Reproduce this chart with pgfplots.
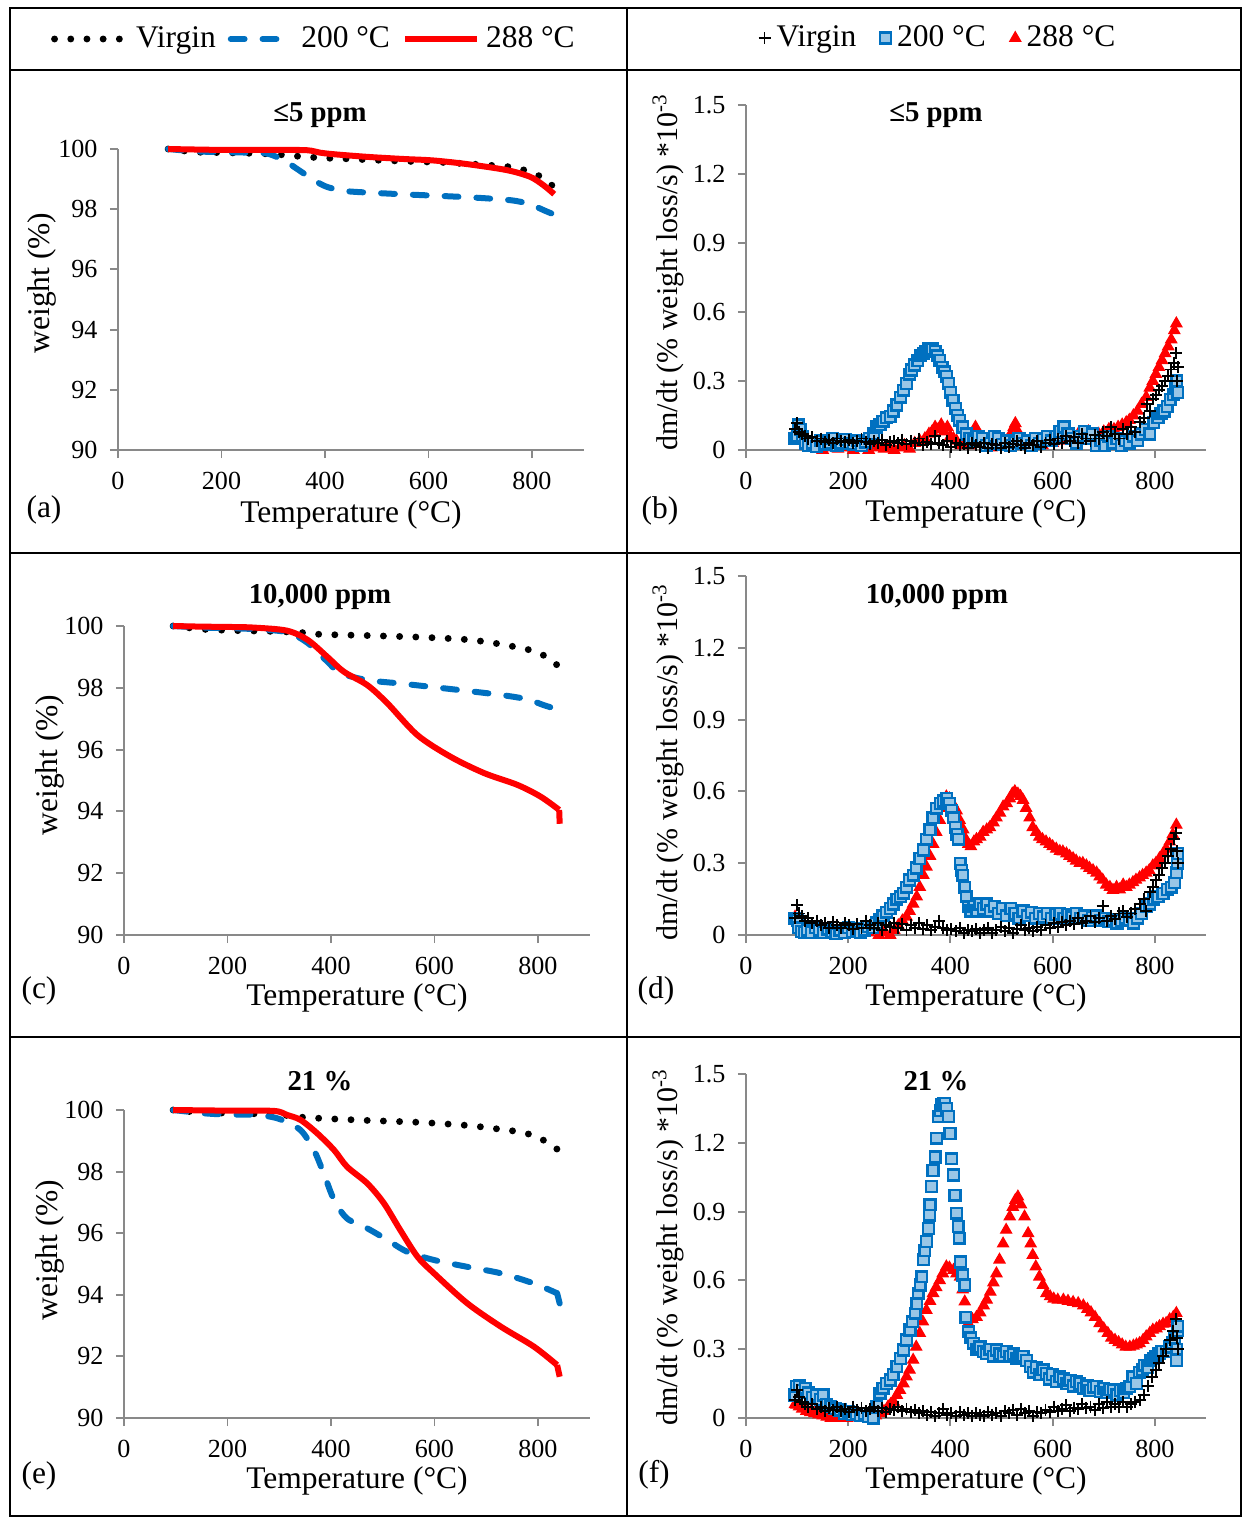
\documentclass[border=0pt]{standalone}
\usepackage{fontspec}
\setmainfont{Liberation Serif}
\usepackage{pgfplots}
\pgfplotsset{compat=1.18}
\definecolor{cblue}{HTML}{0070C0}
\definecolor{cred}{HTML}{FF0000}
\definecolor{cgray}{HTML}{898989}
\tikzset{
 vline/.style={black, line width=2.3pt, line cap=round, dash pattern=on 0pt off 5.4pt},
 bline/.style={cblue, line width=2pt, line cap=round, dash pattern=on 4.6pt off 6pt},
 rline/.style={cred, line width=2pt},
}
\pgfplotsset{
 base/.style={scale only axis, clip=false, axis x line*=bottom, axis y line*=left,
   axis line style={cgray, line width=0.65pt, -}, tick style={cgray, line width=0.65pt},
   tick align=outside, major tick length=2.7pt, xmin=0, xmax=900, xtick={0,200,400,600,800},
   tick label style={font=\fontsize{8.7}{10}\selectfont}, /pgf/number format/assume math mode=true,
   xticklabel style={yshift=-1.3pt}, yticklabel style={xshift=-0.6pt}},
 tga/.style={base, ymin=90, ymax=100, ytick={90,92,94,96,98,100}, width=155.25pt},
 dtg/.style={base, ymin=0, ymax=1.5, ytick={0,0.3,0.6,0.9,1.2,1.5}, width=153.333pt,
   yticklabel style={/pgf/number format/fixed, /pgf/number format/precision=1}},
 vmark/.style={only marks, mark=+, mark size=2pt, mark options={black, line width=0.65pt}},
 bmark/.style={only marks, mark=square*, mark size=1.8pt, mark options={draw=cblue, fill=cblue!40!white, line width=0.8pt}},
 rmark/.style={only marks, mark=triangle*, mark size=2.1pt, mark options={draw=cred, fill=cred}},
}
\begin{document}
\begin{tikzpicture}
\useasboundingbox (0,0) rectangle (414pt,-505.667pt);
\begin{scope}[x=0.333333pt,y=-0.333333pt]
\draw[line width=0.7pt] (10,8) rectangle (1241,1516);
\draw[line width=0.7pt] (627,8) -- (627,1516);
\draw[line width=0.7pt] (10,70) -- (1241,70);
\draw[line width=0.7pt] (10,553) -- (1241,553);
\draw[line width=0.7pt] (10,1037) -- (1241,1037);
% titles
\begin{scope}[every node/.style={font=\bfseries\fontsize{9.6}{11}\selectfont}]
\node at (320,115) {≤5 ppm};
\node at (936,115) {≤5 ppm};
\node at (320,597) {10,000 ppm};
\node at (937,597) {10,000 ppm};
\node at (320,1081) {21 \%};
\node at (936,1081) {21 \%};
\end{scope}
\begin{scope}[every node/.style={font=\fontsize{10.5}{12}\selectfont}]
\node at (351,515) {Temperature (°C)};
\node at (976,514) {Temperature (°C)};
\node at (357,998) {Temperature (°C)};
\node at (976,998) {Temperature (°C)};
\node at (357,1481) {Temperature (°C)};
\node at (976,1481) {Temperature (°C)};
\node[rotate=90] at (42,283) {weight (\%)};
\node[rotate=90] at (50,765) {weight (\%)};
\node[rotate=90] at (50,1250) {weight (\%)};
\node at (44,510) {(a)};
\node at (660,511) {(b)};
\node at (39,991) {(c)};
\node at (656,991) {(d)};
\node at (39,1476) {(e)};
\node at (654,1475) {(f)};
\end{scope}
\begin{scope}[every node/.style={font=\fontsize{10}{12}\selectfont}]
\node[rotate=90] at (668,272) {dm/dt (\% weight loss/s) *10\textsuperscript{-3}};
\node[rotate=90] at (668,762) {dm/dt (\% weight loss/s) *10\textsuperscript{-3}};
\node[rotate=90] at (668,1247) {dm/dt (\% weight loss/s) *10\textsuperscript{-3}};
\end{scope}
\end{scope}

% ---------- (a)
\begin{axis}[tga, at={(39.333pt,-150pt)}, anchor=south west, height=100.333pt,
  legend style={at={(0.425,1.3655)}, anchor=center, draw=none, fill=none, legend columns=3,
   font=\fontsize{10.5}{12}\selectfont, /tikz/every even column/.append style={column sep=2pt}}]
\addplot[vline, smooth, legend image code/.code={\draw[vline] (0pt,0pt) -- (24pt,0pt);}] coordinates {(97,100) (150,99.9) (200,99.88) (250,99.86) (300,99.83) (355,99.75) (400,99.7) (450,99.67) (500,99.63) (545,99.6) (600,99.57) (635,99.55) (700,99.48) (760,99.4) (792,99.26) (820,99.05) (846,98.68)};
\addlegendentry{Virgin}
\addplot[bline, smooth, legend image code/.code={\draw[bline] (0pt,0pt) -- (20.5pt,0pt);}] coordinates {(97,100) (150,99.92) (200,99.9) (250,99.88) (288,99.85) (320,99.63) (345,99.35) (365,99.12) (385,98.9) (404,98.74) (430,98.63) (455,98.58) (545,98.5) (674,98.4) (758,98.3) (795,98.17) (825,97.95) (850,97.77)};
\addlegendentry{200 °C}
\addplot[rline, smooth, legend image code/.code={\draw[rline] (0pt,0pt) -- (24pt,0pt);}] coordinates {(97,100) (200,99.97) (300,99.97) (365,99.96) (390,99.88) (415,99.83) (481,99.74) (550,99.67) (609,99.62) (674,99.5) (751,99.3) (796,99.08) (822,98.8) (843,98.5)};
\addlegendentry{288 °C}
\end{axis}

% ---------- (c)
\begin{axis}[tga, at={(41.333pt,-311.667pt)}, anchor=south west, height=103pt]
\addplot[vline, smooth] coordinates {(95,100) (150,99.9) (200,99.86) (250,99.84) (300,99.82) (350,99.78) (380,99.73) (473,99.69) (570,99.64) (663,99.56) (725,99.42) (790,99.2) (818,98.98) (841,98.68)};
\addplot[bline, smooth] coordinates {(95,100) (150,99.95) (200,99.93) (250,99.9) (315,99.8) (355,99.45) (393,98.85) (418,98.48) (470,98.25) (534,98.14) (599,98.02) (663,97.9) (728,97.77) (779,97.63) (811,97.44) (842,97.28)};
\addplot[rline, smooth] coordinates {(95,100) (150,99.98) (200,99.97) (250,99.95) (315,99.85) (355,99.55) (393,99.0) (425,98.52) (470,98.09) (509,97.5) (567,96.47) (631,95.77) (696,95.24) (760,94.86) (805,94.48) (841,94.05)};
\addplot[rline] coordinates {(841,94.05) (842,93.6)};
\end{axis}

% ---------- (e)
\begin{axis}[tga, at={(41.333pt,-472.667pt)}, anchor=south west, height=102.667pt]
\addplot[vline, smooth] coordinates {(95,100) (150,99.92) (200,99.9) (250,99.88) (300,99.85) (341,99.77) (380,99.73) (473,99.66) (570,99.6) (663,99.5) (725,99.38) (760,99.3) (784,99.21) (813,99.0) (841,98.68)};
\addplot[bline, smooth] coordinates {(95,100) (150,99.9) (200,99.85) (250,99.85) (270,99.82) (302,99.7) (341,99.35) (367,98.7) (386,97.94) (406,97.08) (431,96.48) (470,96.16) (509,95.78) (547,95.4) (599,95.13) (663,94.91) (728,94.7) (792,94.37) (837,94.05)};
\addplot[bline] coordinates {(837,94.05) (842,93.72)};
\addplot[rline, smooth] coordinates {(95,100) (200,99.98) (290,99.97) (315,99.84) (341,99.68) (373,99.25) (406,98.7) (431,98.16) (470,97.62) (502,96.98) (534,96.1) (567,95.24) (599,94.7) (663,93.73) (728,92.97) (792,92.32) (837,91.72)};
\addplot[rline] coordinates {(837,91.72) (842,91.34)};
\end{axis}

% ---------- (b)
\begin{axis}[dtg, at={(248.667pt,-150pt)}, anchor=south west, height=115pt, reverse legend,
  legend style={at={(0.4217,1.194)}, anchor=center, draw=none, fill=none, legend columns=3,
   font=\fontsize{10.5}{12}\selectfont, /tikz/every even column/.append style={column sep=6pt}}]
\addplot[rmark] coordinates {(96,0.08) (100,0.07) (104,0.05) (110,0.04) (116,0.03) (124,0.02) (132,0.01) (140,0.015) (150,0.0) (160,0.01) (170,0.02) (180,0.005) (190,0.01) (200,0.02) (210,0.0) (220,0.015) (230,0.01) (240,0.0) (250,0.02) (260,0.01) (270,0.005) (280,0.015) (290,0.0) (300,0.01) (310,0.02) (320,0.005) (330,0.03) (340,0.04) (350,0.05) (358,0.07) (364,0.08) (370,0.1) (376,0.09) (382,0.11) (388,0.08) (394,0.1) (400,0.06) (406,0.05) (412,0.04) (420,0.02) (428,0.03) (436,0.02) (444,0.05) (449,0.1) (456,0.06) (464,0.03) (472,0.02) (480,0.01) (490,0.02) (500,0.03) (510,0.04) (518,0.07) (524,0.1) (527,0.116) (532,0.08) (540,0.04) (550,0.03) (560,0.02) (570,0.03) (580,0.02) (590,0.04) (600,0.03) (610,0.05) (620,0.04) (630,0.06) (640,0.05) (650,0.07) (660,0.06) (670,0.08) (680,0.06) (690,0.07) (700,0.08) (710,0.09) (720,0.09) (728,0.1) (736,0.11) (744,0.12) (750,0.13) (758,0.15) (766,0.17) (774,0.2) (783,0.23) (790,0.27) (796,0.3) (802,0.33) (808,0.36) (814,0.39) (820,0.42) (826,0.45) (832,0.48) (838,0.52) (842,0.55)};
\addlegendentry{288 °C}
\addplot[bmark] coordinates {(96,0.05) (100,0.06) (102,0.11) (106,0.09) (110,0.06) (116,0.03) (122,0.02) (130,0.03) (138,0.015) (146,0.04) (154,0.025) (162,0.03) (170,0.05) (178,0.02) (186,0.03) (194,0.045) (202,0.03) (210,0.025) (218,0.04) (226,0.02) (234,0.035) (242,0.05) (250,0.07) (256,0.1) (262,0.11) (268,0.125) (275,0.14) (282,0.146) (288,0.17) (295,0.196) (302,0.23) (308,0.26) (314,0.29) (320,0.33) (324,0.348) (330,0.37) (336,0.39) (342,0.41) (347,0.42) (352,0.43) (358,0.44) (364,0.44) (370,0.43) (375,0.41) (379,0.39) (384,0.36) (388,0.34) (392,0.32) (396,0.29) (400,0.25) (405,0.217) (410,0.18) (414,0.15) (418,0.13) (424,0.1) (431,0.07) (438,0.05) (446,0.04) (454,0.06) (462,0.05) (470,0.02) (478,0.03) (486,0.06) (494,0.05) (502,0.025) (510,0.04) (518,0.02) (526,0.035) (534,0.05) (542,0.03) (550,0.04) (558,0.02) (566,0.05) (574,0.03) (582,0.045) (590,0.06) (598,0.04) (606,0.06) (614,0.08) (622,0.1) (630,0.07) (638,0.05) (646,0.03) (654,0.06) (662,0.08) (670,0.05) (678,0.07) (686,0.02) (694,0.04) (702,0.02) (710,0.06) (718,0.03) (726,0.05) (734,0.02) (742,0.04) (750,0.03) (758,0.06) (766,0.04) (774,0.07) (782,0.09) (790,0.07) (798,0.12) (806,0.14) (812,0.16) (818,0.17) (824,0.19) (830,0.22) (836,0.24) (840,0.27) (843,0.3) (845,0.25)};
\addlegendentry{200 °C}
\addplot[vmark] coordinates {(96,0.09) (100,0.116) (104,0.08) (110,0.07) (116,0.06) (122,0.05) (130,0.055) (138,0.04) (146,0.05) (154,0.035) (162,0.045) (170,0.03) (178,0.05) (186,0.04) (194,0.035) (202,0.045) (210,0.03) (218,0.04) (226,0.05) (234,0.035) (242,0.025) (250,0.04) (258,0.03) (266,0.045) (274,0.02) (282,0.035) (290,0.04) (298,0.03) (306,0.045) (314,0.025) (322,0.04) (330,0.03) (338,0.05) (346,0.02) (354,0.035) (362,0.025) (370,0.06) (378,0.03) (386,0.02) (394,0.04) (402,0.015) (410,0.03) (418,0.02) (426,0.025) (434,0.01) (442,0.03) (450,0.02) (458,0.015) (466,0.03) (474,0.01) (482,0.025) (490,0.02) (498,0.01) (506,0.03) (514,0.015) (522,0.025) (530,0.04) (538,0.02) (546,0.01) (554,0.03) (562,0.02) (570,0.04) (578,0.015) (586,0.03) (594,0.045) (602,0.025) (610,0.05) (618,0.03) (626,0.06) (634,0.04) (642,0.055) (650,0.03) (658,0.07) (666,0.05) (674,0.04) (682,0.065) (690,0.05) (698,0.08) (706,0.06) (714,0.1) (722,0.07) (730,0.05) (738,0.09) (746,0.07) (754,0.1) (762,0.08) (770,0.12) (778,0.14) (784,0.2) (790,0.17) (796,0.22) (802,0.24) (808,0.26) (814,0.28) (820,0.3) (826,0.32) (832,0.35) (838,0.38) (842,0.42) (844,0.3) (845,0.36)};
\addlegendentry{Virgin}
\end{axis}

% ---------- (d)
\begin{axis}[dtg, at={(248.667pt,-311.667pt)}, anchor=south west, height=119.667pt]
\addplot[rmark] coordinates {(96,0.076) (100,0.06) (106,0.05) (112,0.04) (120,0.03) (130,0.02) (140,0.025) (150,0.01) (160,0.02) (170,0.015) (180,0.01) (190,0.02) (200,0.01) (210,0.02) (220,0.005) (230,0.015) (240,0.01) (250,0.02) (260,0.0) (270,0.01) (282,0.0) (290,0.02) (298,0.04) (306,0.06) (314,0.076) (320,0.1) (327,0.13) (334,0.16) (340,0.2) (347,0.25) (353,0.285) (360,0.33) (366,0.38) (372,0.43) (379,0.48) (385,0.53) (392,0.578) (398,0.57) (404,0.55) (412,0.52) (418,0.48) (425,0.44) (430,0.4) (435,0.38) (440,0.37) (446,0.39) (451,0.4) (458,0.41) (464,0.43) (471,0.44) (477,0.45) (484,0.47) (490,0.49) (497,0.51) (503,0.536) (510,0.55) (516,0.57) (521,0.59) (526,0.6) (532,0.59) (537,0.58) (542,0.564) (548,0.53) (555,0.49) (561,0.45) (568,0.43) (574,0.41) (580,0.4) (587,0.39) (594,0.38) (600,0.37) (607,0.36) (614,0.35) (620,0.348) (627,0.34) (633,0.33) (640,0.32) (646,0.31) (653,0.3) (659,0.3) (666,0.29) (672,0.28) (679,0.27) (686,0.26) (692,0.244) (698,0.23) (705,0.21) (712,0.2) (718,0.188) (725,0.2) (731,0.19) (738,0.21) (744,0.2) (750,0.21) (757,0.22) (763,0.23) (770,0.24) (776,0.25) (783,0.26) (789,0.27) (796,0.29) (802,0.3) (809,0.32) (816,0.34) (822,0.36) (829,0.39) (835,0.42) (842,0.46)};
\addplot[bmark] coordinates {(96,0.07) (100,0.06) (103,0.03) (108,0.015) (114,0.01) (120,0.02) (128,0.01) (136,0.03) (144,0.02) (152,0.01) (160,0.025) (168,0.015) (176,0.005) (184,0.02) (192,0.01) (200,0.03) (208,0.015) (216,0.025) (224,0.01) (232,0.02) (240,0.035) (248,0.03) (255,0.05) (262,0.065) (268,0.08) (275,0.095) (282,0.11) (288,0.13) (295,0.15) (302,0.16) (308,0.175) (314,0.2) (320,0.23) (327,0.25) (333,0.28) (340,0.32) (347,0.355) (353,0.4) (360,0.44) (366,0.49) (373,0.53) (380,0.55) (386,0.56) (393,0.57) (398,0.55) (402,0.52) (406,0.49) (410,0.45) (413,0.42) (416,0.4) (419,0.3) (422,0.27) (424,0.25) (428,0.2) (431,0.16) (435,0.118) (440,0.1) (446,0.12) (452,0.1) (458,0.13) (464,0.11) (471,0.13) (478,0.1) (486,0.12) (494,0.09) (502,0.11) (510,0.08) (518,0.11) (526,0.09) (534,0.07) (542,0.1) (550,0.08) (558,0.095) (566,0.07) (574,0.09) (582,0.075) (590,0.09) (598,0.07) (606,0.085) (614,0.09) (622,0.07) (630,0.085) (638,0.075) (646,0.09) (654,0.07) (662,0.08) (670,0.06) (678,0.075) (686,0.08) (694,0.06) (702,0.07) (710,0.055) (718,0.065) (726,0.05) (734,0.06) (742,0.07) (750,0.063) (758,0.05) (766,0.07) (774,0.09) (783,0.118) (790,0.13) (798,0.15) (806,0.16) (816,0.174) (824,0.19) (832,0.2) (838,0.22) (842,0.26) (844,0.3) (845,0.34)};
\addplot[vmark] coordinates {(96,0.07) (100,0.125) (104,0.09) (110,0.08) (116,0.06) (122,0.07) (130,0.05) (138,0.06) (146,0.04) (154,0.05) (162,0.03) (170,0.055) (178,0.04) (186,0.03) (194,0.05) (202,0.04) (210,0.025) (218,0.045) (226,0.03) (234,0.06) (242,0.04) (250,0.03) (258,0.05) (266,0.02) (274,0.04) (282,0.035) (290,0.05) (298,0.03) (306,0.045) (314,0.02) (322,0.04) (330,0.03) (338,0.05) (346,0.025) (354,0.04) (362,0.02) (370,0.035) (378,0.06) (386,0.03) (394,0.02) (402,0.025) (410,0.015) (418,0.03) (426,0.01) (434,0.02) (442,0.015) (450,0.025) (458,0.01) (466,0.02) (474,0.03) (482,0.01) (490,0.02) (498,0.035) (506,0.015) (514,0.03) (522,0.01) (530,0.025) (538,0.04) (546,0.02) (554,0.03) (562,0.015) (570,0.035) (578,0.02) (586,0.04) (594,0.03) (602,0.05) (610,0.035) (618,0.055) (626,0.04) (634,0.06) (642,0.045) (650,0.07) (658,0.05) (666,0.06) (674,0.08) (682,0.055) (690,0.07) (698,0.12) (706,0.06) (714,0.08) (722,0.065) (730,0.09) (738,0.1) (746,0.075) (754,0.09) (762,0.11) (770,0.13) (778,0.15) (783,0.1) (790,0.18) (796,0.2) (802,0.23) (808,0.25) (814,0.28) (820,0.3) (826,0.33) (832,0.36) (838,0.4) (842,0.425) (844,0.35) (845,0.3)};
\end{axis}

% ---------- (f)
\begin{axis}[dtg, at={(248.667pt,-472.667pt)}, anchor=south west, height=114.667pt]
\addplot[rmark] coordinates {(96,0.06) (99,0.057) (104,0.05) (110,0.04) (118,0.03) (126,0.025) (134,0.02) (142,0.015) (150,0.01) (158,0.005) (166,0.0) (174,0.005) (182,0.0) (190,0.01) (198,0.0) (206,0.01) (214,0.005) (222,0.015) (230,0.0) (238,0.01) (246,0.0) (254,0.01) (262,0.02) (270,0.03) (278,0.05) (283,0.06) (289,0.07) (295,0.1) (301,0.122) (308,0.15) (314,0.18) (320,0.21) (327,0.253) (333,0.31) (340,0.37) (346,0.42) (353,0.47) (360,0.51) (366,0.544) (372,0.57) (379,0.6) (385,0.63) (392,0.66) (398,0.655) (406,0.645) (412,0.63) (419,0.616) (424,0.56) (428,0.507) (435,0.413) (443,0.43) (451,0.44) (458,0.46) (465,0.49) (471,0.515) (478,0.55) (484,0.59) (490,0.63) (496,0.69) (503,0.76) (509,0.82) (516,0.878) (522,0.92) (527,0.95) (532,0.965) (538,0.93) (545,0.878) (552,0.805) (557,0.76) (561,0.71) (567,0.66) (574,0.616) (581,0.58) (588,0.544) (595,0.53) (602,0.52) (610,0.515) (621,0.515) (630,0.51) (640,0.505) (650,0.5) (660,0.49) (668,0.475) (675,0.46) (683,0.44) (692,0.413) (700,0.39) (708,0.37) (715,0.35) (722,0.34) (729,0.33) (736,0.32) (743,0.31) (751,0.31) (758,0.315) (764,0.32) (770,0.326) (777,0.34) (783,0.355) (790,0.37) (796,0.384) (803,0.39) (809,0.4) (816,0.41) (822,0.413) (829,0.43) (836,0.44) (842,0.457)};
\addplot[bmark] coordinates {(96,0.1) (99,0.137) (104,0.14) (110,0.12) (116,0.13) (122,0.11) (130,0.09) (138,0.1) (146,0.08) (151,0.1) (158,0.06) (166,0.05) (174,0.04) (184,0.035) (192,0.02) (200,0.03) (208,0.015) (216,0.02) (224,0.01) (232,0.02) (240,0.005) (249,0.0) (256,0.05) (262,0.108) (268,0.13) (275,0.15) (282,0.166) (288,0.19) (295,0.224) (302,0.26) (308,0.297) (314,0.34) (321,0.384) (326,0.42) (331,0.457) (334,0.5) (337,0.544) (341,0.58) (344,0.616) (347,0.69) (350,0.73) (353,0.77) (357,0.827) (359,0.885) (360,0.93) (363,1.009) (366,1.08) (370,1.138) (373,1.22) (376,1.314) (380,1.34) (383,1.365) (386,1.37) (389,1.372) (392,1.35) (396,1.314) (399,1.24) (402,1.13) (406,1.06) (409,0.972) (412,0.893) (415,0.835) (417,0.784) (420,0.68) (424,0.624) (428,0.58) (430,0.44) (435,0.376) (440,0.35) (445,0.326) (452,0.3) (458,0.31) (464,0.29) (470,0.28) (477,0.3) (484,0.27) (490,0.297) (497,0.28) (504,0.27) (510,0.29) (516,0.27) (523,0.28) (530,0.26) (536,0.27) (542,0.27) (549,0.25) (556,0.224) (562,0.2) (568,0.22) (575,0.19) (581,0.21) (588,0.195) (594,0.17) (600,0.19) (607,0.16) (614,0.18) (621,0.17) (628,0.15) (634,0.165) (641,0.14) (647,0.16) (653,0.15) (660,0.13) (667,0.14) (673,0.12) (680,0.135) (686,0.137) (693,0.115) (700,0.13) (706,0.11) (712,0.125) (719,0.122) (726,0.1) (732,0.12) (739,0.11) (745,0.13) (751,0.137) (757,0.18) (764,0.15) (770,0.2) (776,0.21) (780,0.23) (786,0.22) (792,0.25) (797,0.26) (802,0.27) (808,0.28) (814,0.29) (822,0.29) (828,0.31) (834,0.33) (838,0.35) (842,0.25) (843,0.3) (844,0.38) (845,0.4)};
\addplot[vmark] coordinates {(96,0.08) (100,0.122) (104,0.09) (110,0.07) (116,0.06) (122,0.05) (130,0.06) (138,0.04) (146,0.05) (154,0.03) (162,0.045) (170,0.035) (178,0.05) (186,0.03) (194,0.04) (202,0.025) (210,0.05) (218,0.035) (226,0.045) (234,0.03) (242,0.04) (250,0.05) (258,0.03) (266,0.045) (274,0.025) (282,0.04) (290,0.035) (298,0.05) (306,0.03) (314,0.04) (322,0.025) (330,0.035) (338,0.02) (346,0.03) (354,0.015) (362,0.025) (370,0.01) (378,0.02) (386,0.04) (394,0.015) (402,0.02) (410,0.01) (418,0.025) (426,0.015) (434,0.02) (442,0.01) (450,0.02) (458,0.015) (466,0.01) (474,0.025) (482,0.015) (490,0.02) (498,0.01) (506,0.03) (514,0.02) (522,0.035) (530,0.015) (538,0.04) (546,0.02) (554,0.03) (562,0.01) (570,0.025) (578,0.02) (586,0.035) (594,0.025) (602,0.05) (610,0.03) (618,0.04) (626,0.055) (634,0.03) (642,0.045) (650,0.04) (658,0.06) (666,0.045) (674,0.05) (682,0.035) (690,0.06) (698,0.045) (706,0.07) (714,0.05) (722,0.06) (730,0.05) (738,0.07) (746,0.05) (754,0.06) (762,0.07) (770,0.08) (778,0.1) (786,0.14) (794,0.18) (802,0.21) (808,0.24) (816,0.27) (822,0.3) (830,0.34) (836,0.38) (842,0.43) (844,0.35) (845,0.3)};
\end{axis}
\end{tikzpicture}
\end{document}
